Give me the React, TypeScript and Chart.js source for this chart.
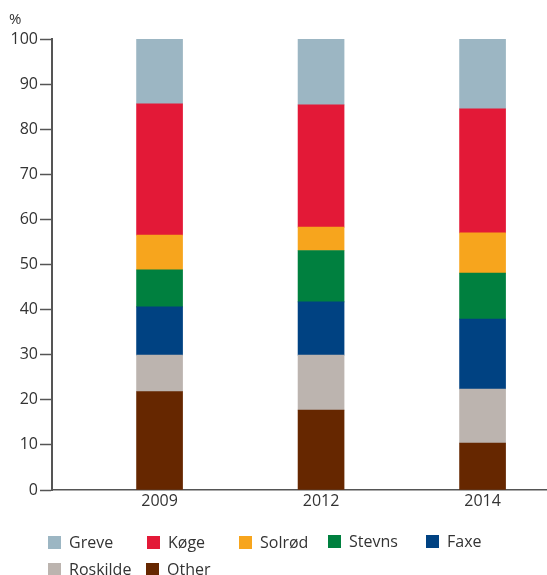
import React, { useEffect, useRef } from "react";
import { Chart, registerables } from "chart.js";

Chart.register(...registerables);

const categories = ["2009", "2012", "2014"];
// stack order bottom -> top
const other = [21.8, 17.7, 10.4];
const roskilde = [8.1, 12.2, 12.0];
const faxe = [10.7, 11.8, 15.5];
const stevns = [8.2, 11.4, 10.2];
const solrod = [7.7, 5.2, 8.9];
const koge = [29.1, 27.1, 27.5];
const greve = [14.4, 14.6, 15.5];
const yTicks = [0, 10, 20, 30, 40, 50, 60, 70, 80, 90, 100];

const seriesDefs = [
  { label: "Other", data: other, color: "#662700" },
  { label: "Roskilde", data: roskilde, color: "#BCB4AF" },
  { label: "Faxe", data: faxe, color: "#004282" },
  { label: "Stevns", data: stevns, color: "#00803F" },
  { label: "Solrød", data: solrod, color: "#F7A51D" },
  { label: "Køge", data: koge, color: "#E31937" },
  { label: "Greve", data: greve, color: "#9CB6C3" },
];

const legendOrder = ["Greve", "Køge", "Solrød", "Stevns", "Faxe", "Roskilde", "Other"];
const legendPos: [number, number][] = [
  [48, 536],
  [147, 536],
  [239, 536],
  [328, 535],
  [426, 535],
  [48, 563],
  [146, 563],
];

const FONT = "'Open Sans', 'DejaVu Sans', sans-serif";

const legendPlugin = {
  id: "customLegend",
  afterDraw(chart: any) {
    const ctx = chart.ctx;
    ctx.save();
    ctx.font = `16px ${FONT}`;
    ctx.textBaseline = "middle";
    ctx.textAlign = "left";
    legendOrder.forEach((name, i) => {
      const ds = chart.data.datasets.find((d: any) => d.label === name);
      const [x, y] = legendPos[i];
      ctx.fillStyle = ds.backgroundColor;
      ctx.fillRect(x, y, 13, 13);
      ctx.fillStyle = "#333333";
      ctx.fillText(name, x + 21, y + 7);
    });
    ctx.font = `15px ${FONT}`;
    ctx.fillStyle = "#333333";
    ctx.fillText("%", 9, 20);
    ctx.restore();
  },
};

export default function App() {
  const ref = useRef<HTMLCanvasElement | null>(null);
  useEffect(() => {
    if (!ref.current) return;
    const chart = new Chart(ref.current, {
      type: "bar",
      data: {
        datasets: seriesDefs.map((s) => ({
          label: s.label,
          data: s.data.map((v, i) => ({ x: i, y: v })),
          backgroundColor: s.color,
          borderWidth: 0,
          barThickness: 46,
        })),
      },
      options: {
        responsive: false,
        animation: false,
        layout: { padding: { top: 39, left: 0, right: 0, bottom: 55 } },
        plugins: { legend: { display: false }, tooltip: { enabled: false } },
        scales: {
          x: {
            type: "linear",
            stacked: true,
            offset: false,
            bounds: "data",
            min: -0.666,
            max: 2.399,
            afterBuildTicks: (scale: any) => {
              scale.ticks = categories.map((_, i) => ({ value: i }));
            },
            afterFit: (scale: any) => {
              scale.height = 30;
            },
            grid: { display: false, drawTicks: false, offset: false },
            border: { display: true, color: "#555555", width: 1.5 },
            ticks: {
              autoSkip: false,
              maxRotation: 0,
              padding: 2,
              color: "#333333",
              font: { family: FONT, size: 16 },
              callback: (v: any) => categories[v as number] ?? "",
            },
          },
          y: {
            stacked: true,
            min: 0,
            max: 100,
            afterBuildTicks: (scale: any) => {
              scale.ticks = yTicks.map((v) => ({ value: v }));
            },
            afterFit: (scale: any) => {
              scale.width = 52;
            },
            grid: {
              drawOnChartArea: false,
              drawTicks: true,
              tickLength: 12,
              tickWidth: 1.5,
              tickColor: "#555555",
            },
            border: { display: true, color: "#555555", width: 2 },
            ticks: {
              padding: 2,
              color: "#333333",
              font: { family: FONT, size: 16 },
            },
          },
        },
      },
      plugins: [legendPlugin],
    } as any);
    return () => chart.destroy();
  }, []);
  return (
    <div style={{ position: "absolute", left: 0, top: 0, width: 547, height: 575 }}>
      <canvas ref={ref} width={547} height={575} />
    </div>
  );
}
